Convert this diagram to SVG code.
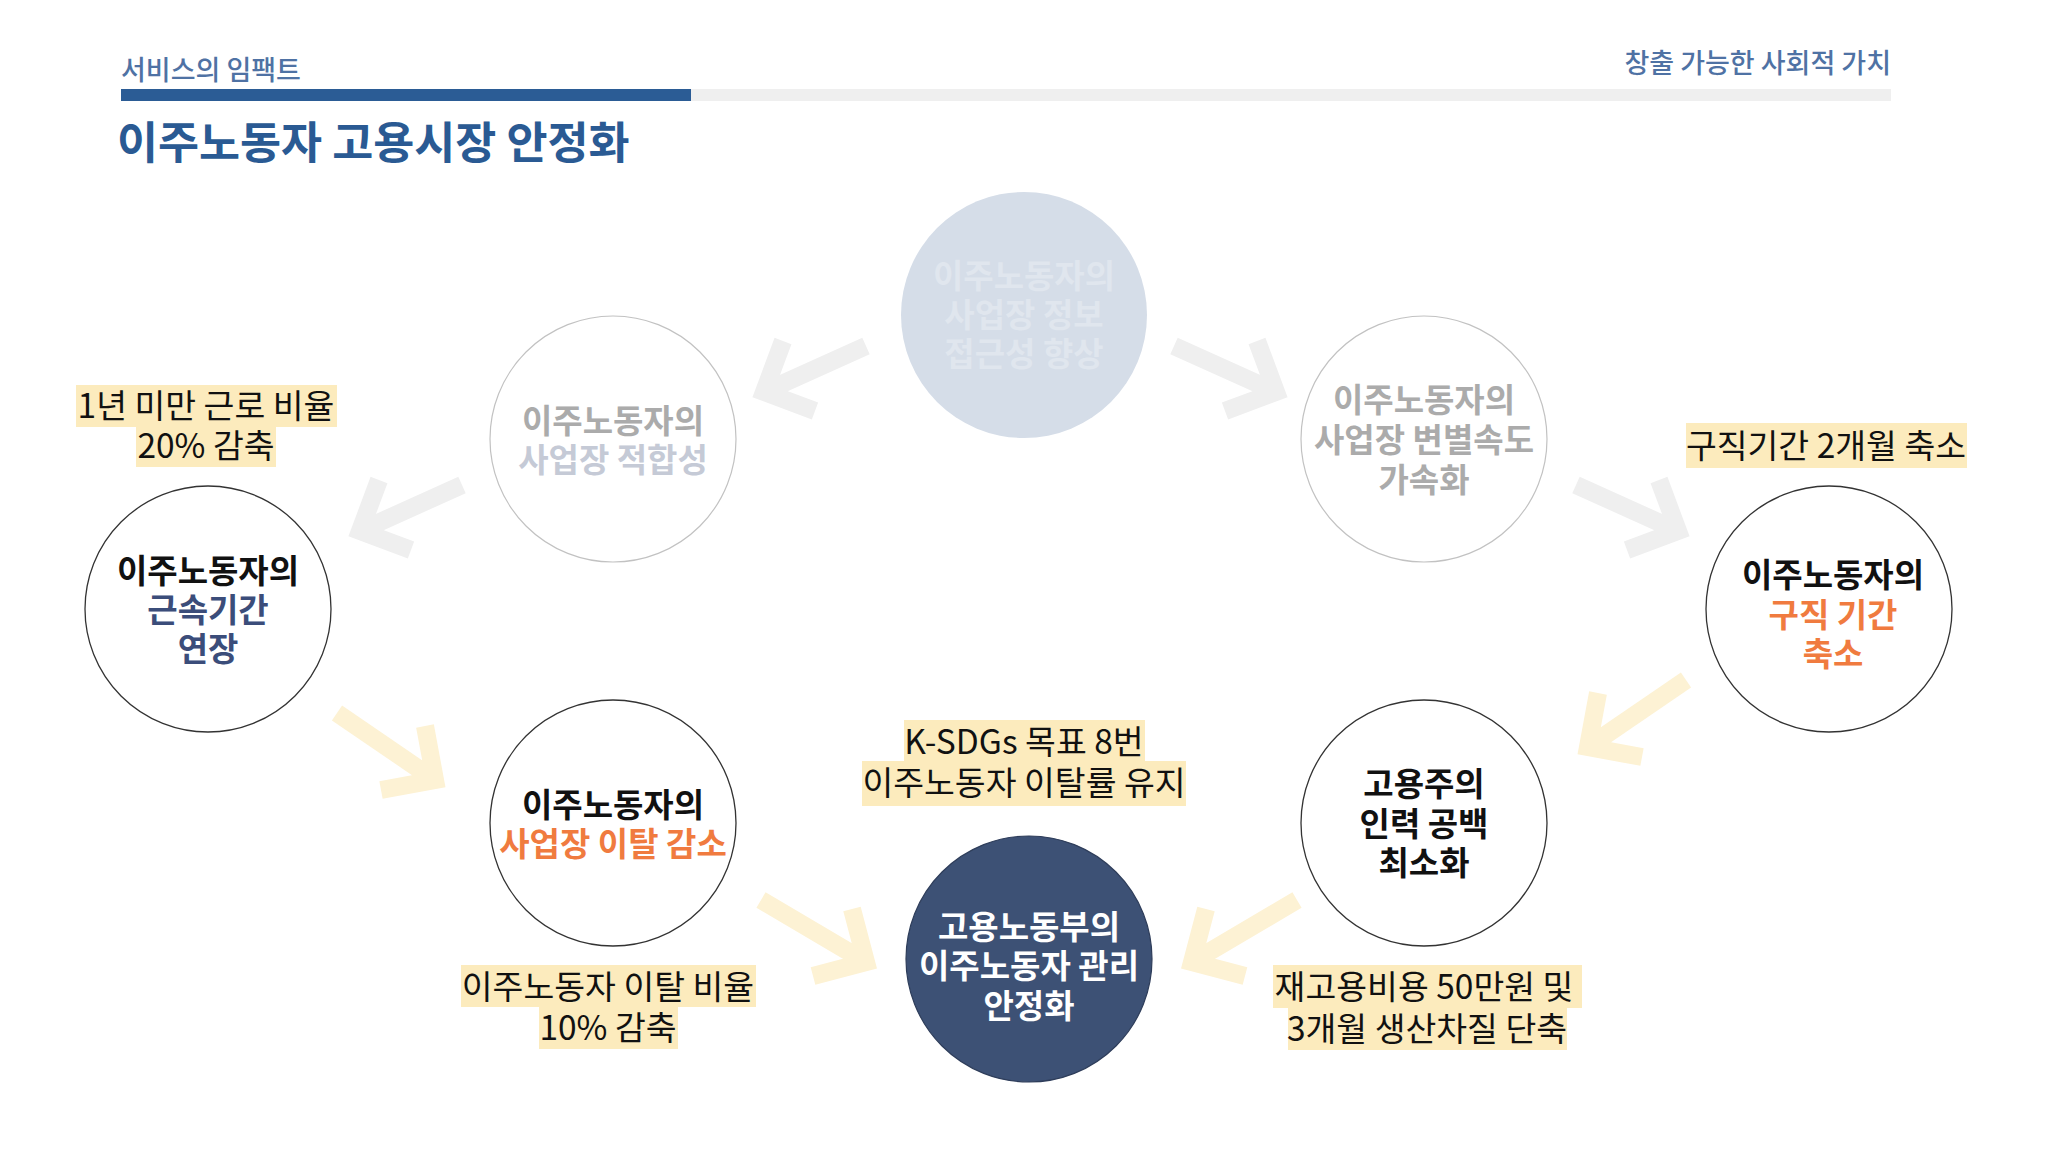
<svg xmlns="http://www.w3.org/2000/svg" width="2048" height="1151" viewBox="0 0 2048 1151">
<style>
.hdr { font-family: "Noto Sans CJK KR", "Noto Sans", sans-serif; font-weight: 500; font-size: 27px; fill: #4f72a4; }
.title { font-family: "Noto Sans CJK KR", "Noto Sans", sans-serif; font-weight: 700; font-size: 44.6px; fill: #2a5a93; }
.nt { font-family: "Noto Sans CJK KR", "Noto Sans", sans-serif; font-weight: 700; font-size: 33px; text-anchor: middle; }
.lbl { font-family: "Noto Sans CJK KR", "Noto Sans", sans-serif; font-weight: 400; font-size: 33.5px; text-anchor: middle; fill: #111111; }
.hl { fill: #fcebbd; }
.c-dark { fill: #ffffff; stroke: #333333; stroke-width: 1.3; }
.c-light { fill: #ffffff; stroke: #c2c2c2; stroke-width: 1.2; }
.arr { fill: none; stroke-width: 18; stroke-linejoin: miter; stroke-linecap: butt; }
.arr-g { stroke: #efefef; }
.arr-y { stroke: #fdf2d4; }
.blk { fill: #111111; }
.org { fill: #f07b3f; }
.nav { fill: #3b4d7a; }
.gry { fill: #ababab; }
</style>
<rect x="0" y="0" width="2048" height="1151" fill="#ffffff"/>

<g id="header">
  <text class="hdr" x="121" y="80">서비스의 임팩트</text>
  <text class="hdr" x="1891" y="73" text-anchor="end">창출 가능한 사회적 가치</text>
  <rect x="691" y="89" width="1200" height="12" fill="#efefef"/>
  <rect x="121" y="89" width="570" height="12" fill="#2b5c95"/>
  <text class="title" x="117" y="159">이주노동자 고용시장 안정화</text>
</g>

<g id="connectors">
  <path class="arr arr-g" d="M815,411 L764,392 L783,341 M866,346 L764,392"/>
  <path class="arr arr-g" d="M1225,411 L1276,392 L1257,341 M1174,346 L1276,392"/>
  <path class="arr arr-g" d="M411,550 L360,531 L379,480 M462,485 L360,531"/>
  <path class="arr arr-g" d="M1627,550 L1678,531 L1659,480 M1576,485 L1678,531"/>
  <path class="arr arr-y" d="M425,726 L435,780 L381,790 M337,713 L435,780"/>
  <path class="arr arr-y" d="M1598,693 L1588,747 L1642,757 M1686,680 L1588,747"/>
  <path class="arr arr-y" d="M813,976 L866,962 L852,909 M761,900 L866,962"/>
  <path class="arr arr-y" d="M1245,976 L1192,962 L1206,909 M1297,900 L1192,962"/>
</g>

<g id="node-info-access">
  <circle cx="1024" cy="315" r="123" fill="#d5dde8"/>
  <text class="nt" fill="#e0e6ee"><tspan x="1024" y="288">이주노동자의</tspan><tspan x="1024" y="327">사업장 정보</tspan><tspan x="1024" y="366">접근성 향상</tspan></text>
</g>

<g id="node-fit">
  <circle class="c-light" cx="613" cy="439" r="123"/>
  <text class="nt"><tspan class="gry" x="613" y="433">이주노동자의</tspan><tspan x="613" y="472" fill="#c5cad6">사업장 적합성</tspan></text>
</g>

<g id="node-speed">
  <circle class="c-light" cx="1424" cy="439" r="123"/>
  <text class="nt gry"><tspan x="1424" y="412">이주노동자의</tspan><tspan x="1424" y="452">사업장 변별속도</tspan><tspan x="1424" y="492">가속화</tspan></text>
</g>

<g id="node-tenure">
  <circle class="c-dark" cx="208" cy="609" r="123"/>
  <text class="nt"><tspan class="blk" x="208" y="583">이주노동자의</tspan><tspan class="nav" x="208" y="622">근속기간</tspan><tspan class="nav" x="208" y="661">연장</tspan></text>
</g>

<g id="node-jobsearch">
  <circle class="c-dark" cx="1829" cy="609" r="123"/>
  <text class="nt"><tspan class="blk" x="1833" y="587">이주노동자의</tspan><tspan class="org" x="1833" y="627">구직 기간</tspan><tspan class="org" x="1833" y="666">축소</tspan></text>
</g>

<g id="node-turnover">
  <circle class="c-dark" cx="613" cy="823" r="123"/>
  <text class="nt"><tspan class="blk" x="613" y="817">이주노동자의</tspan><tspan class="org" x="613" y="856">사업장 이탈 감소</tspan></text>
</g>

<g id="node-employer">
  <circle class="c-dark" cx="1424" cy="823" r="123"/>
  <text class="nt blk"><tspan x="1424" y="796">고용주의</tspan><tspan x="1424" y="836">인력 공백</tspan><tspan x="1424" y="875">최소화</tspan></text>
</g>

<g id="node-ministry">
  <circle cx="1029" cy="959" r="123" fill="#3d5175" stroke="#2e3d5a" stroke-width="1.2"/>
  <text class="nt" fill="#ffffff"><tspan x="1029" y="939">고용노동부의</tspan><tspan x="1029" y="978">이주노동자 관리</tspan><tspan x="1029" y="1018">안정화</tspan></text>
</g>

<g id="label-tenure">
  <rect class="hl" x="76" y="385" width="261" height="42"/>
  <rect class="hl" x="136" y="427" width="140" height="40"/>
  <text class="lbl"><tspan x="206" y="418">1년 미만 근로 비율</tspan><tspan x="206" y="458">20% 감축</tspan></text>
</g>

<g id="label-jobsearch">
  <rect class="hl" x="1686" y="423" width="281" height="45"/>
  <text class="lbl" x="1826" y="458">구직기간 2개월 축소</text>
</g>

<g id="label-sdgs">
  <rect class="hl" x="904" y="720" width="241" height="42"/>
  <rect class="hl" x="862" y="761" width="324" height="45"/>
  <text class="lbl"><tspan x="1024" y="754">K-SDGs 목표 8번</tspan><tspan x="1024" y="795">이주노동자 이탈률 유지</tspan></text>
</g>

<g id="label-turnover">
  <rect class="hl" x="461" y="965" width="295" height="42"/>
  <rect class="hl" x="539" y="1007" width="139" height="42"/>
  <text class="lbl"><tspan x="608" y="999">이주노동자 이탈 비율</tspan><tspan x="608" y="1040">10% 감축</tspan></text>
</g>

<g id="label-employer">
  <rect class="hl" x="1273" y="965" width="309" height="43"/>
  <rect class="hl" x="1288" y="1008" width="279" height="42"/>
  <text class="lbl"><tspan x="1424" y="999">재고용비용 50만원 및</tspan><tspan x="1427" y="1041">3개월 생산차질 단축</tspan></text>
</g>
</svg>
